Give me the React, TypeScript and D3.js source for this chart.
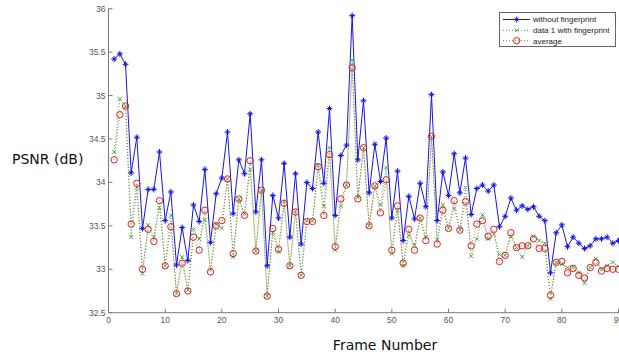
import React from "react";
import * as d3 from "d3";

const frames = d3.range(1, 91);

const withoutFp = [
  35.42, 35.48, 35.36, 34.11, 34.52, 33.47, 33.92, 33.92, 34.35, 33.56,
  33.89, 33.05, 33.48, 33.10, 33.74, 33.55, 34.15, 33.31, 33.87, 34.05,
  34.58, 33.64, 34.26, 34.10, 34.79, 33.66, 34.26, 33.04, 33.85, 33.59,
  34.22, 33.37, 34.10, 33.29, 34.00, 33.93, 34.58, 33.99, 34.85, 33.62,
  34.31, 34.43, 35.92, 34.26, 34.94, 33.88, 34.44, 34.01, 34.51, 33.59,
  34.13, 33.33, 33.84, 33.58, 33.99, 33.72, 35.01, 33.56, 34.12, 33.85,
  34.33, 33.88, 34.28, 33.63, 33.93, 33.97, 33.90, 33.97, 33.49, 33.61,
  33.82, 33.68, 33.73, 33.69, 33.72, 33.61, 33.56, 32.96, 33.42, 33.51,
  33.26, 33.37, 33.30, 33.24, 33.27, 33.35, 33.35, 33.37, 33.30, 33.33,
];

const data1WithFp = [
  34.35, 34.96, 34.88, 33.37, 33.94, 32.95, 33.51, 33.37, 33.71, 33.04,
  33.62, 32.72, 33.14, 32.76, 33.46, 33.35, 33.57, 33.00, 33.52, 33.47,
  34.04, 33.14, 33.81, 33.64, 34.15, 33.21, 33.91, 32.69, 33.42, 33.20,
  33.78, 33.04, 33.67, 32.93, 33.56, 33.56, 34.20, 33.73, 34.40, 33.22,
  33.73, 33.97, 35.41, 33.83, 34.40, 33.50, 33.96, 33.74, 34.17, 33.18,
  33.67, 33.04, 33.39, 33.28, 33.59, 33.37, 34.53, 33.34, 33.74, 33.47,
  33.70, 33.45, 33.94, 33.15, 33.35, 33.63, 33.35, 33.40, 33.17, 33.16,
  33.38, 33.25, 33.14, 33.27, 33.38, 33.33, 33.30, 32.66, 33.08, 33.06,
  33.02, 33.03, 32.96, 32.84, 33.02, 33.12, 33.00, 33.04, 33.08, 33.03,
];

const average = [
  34.26, 34.78, 34.88, 33.52, 33.99, 33.00, 33.46, 33.32, 33.79, 33.04,
  33.49, 32.72, 33.07, 32.75, 33.37, 33.22, 33.68, 32.97, 33.50, 33.56,
  34.04, 33.18, 33.81, 33.62, 34.25, 33.21, 33.91, 32.69, 33.47, 33.23,
  33.76, 33.04, 33.66, 32.93, 33.55, 33.55, 34.18, 33.62, 34.32, 33.26,
  33.81, 33.97, 35.32, 33.81, 34.40, 33.50, 33.96, 33.65, 34.03, 33.22,
  33.73, 33.07, 33.46, 33.22, 33.59, 33.33, 34.53, 33.29, 33.68, 33.47,
  33.79, 33.45, 33.78, 33.27, 33.52, 33.56, 33.38, 33.46, 33.09, 33.16,
  33.42, 33.25, 33.27, 33.27, 33.35, 33.24, 33.24, 32.70, 33.08, 33.09,
  32.96, 33.01, 32.93, 32.90, 33.02, 33.08, 32.98, 33.01, 33.00, 33.00,
];

const xTicks = d3.range(0, 91, 10);
const yTicks = [32.5, 33, 33.5, 34, 34.5, 35, 35.5, 36];
const legendLabels = ["without fingerprint", "data 1 with fingerprint", "average"];

const W = 619;
const H = 356;
const axisColor = "#7a7a7a";
const blue = "#1515e6";
const green = "#3aa63a";
const red = "#e02020";

export default function App() {
  const x = d3.scaleLinear().domain([0, 90]).range([108.5, 618.5]);
  const y = d3.scaleLinear().domain([32.5, 36]).range([312.7, 8.7]);

  const line = (vals: number[]) =>
    d3
      .line<number>()
      .x((_, i) => x(frames[i]))
      .y((v) => y(v))(vals) as string;

  const star = (cx: number, cy: number, key: string, s = 3) => (
    <g key={key} stroke={blue} strokeWidth={1}>
      <line x1={cx - s} y1={cy} x2={cx + s} y2={cy} />
      <line x1={cx} y1={cy - s} x2={cx} y2={cy + s} />
      <line x1={cx - s * 0.6} y1={cy - s * 0.6} x2={cx + s * 0.6} y2={cy + s * 0.6} />
      <line x1={cx - s * 0.6} y1={cy + s * 0.6} x2={cx + s * 0.6} y2={cy - s * 0.6} />
    </g>
  );
  const cross = (cx: number, cy: number, key: string, s = 2) => (
    <g key={key} stroke={green} strokeWidth={0.9}>
      <line x1={cx - s} y1={cy - s} x2={cx + s} y2={cy + s} />
      <line x1={cx - s} y1={cy + s} x2={cx + s} y2={cy - s} />
    </g>
  );
  const circ = (cx: number, cy: number, key: string) => (
    <circle key={key} cx={cx} cy={cy} r={3.2} fill="none" stroke={red} strokeWidth={1} />
  );

  const x0 = x(0);
  const yb = y(32.5);

  const lgX = 499.5;
  const lgY = 12.5;
  const rows = [19.5, 30.3, 40.7];

  return (
    <svg
      width={W}
      height={H}
      style={{ position: "absolute", left: 0, top: 0, background: "#fff" }}
      fontFamily="'Liberation Sans', Arial, sans-serif"
    >
      <rect width={W} height={H} fill="#fff" />
      {/* series lines */}
      <path d={line(average)} fill="none" stroke="#c96a4a" strokeWidth={1} strokeDasharray="1,2" />
      <path d={line(data1WithFp)} fill="none" stroke={green} strokeWidth={1} strokeDasharray="1,2" />
      <path d={line(withoutFp)} fill="none" stroke={blue} strokeWidth={1} />
      {withoutFp.map((v, i) => star(x(frames[i]), y(v), "b" + i))}
      {data1WithFp.map((v, i) => cross(x(frames[i]), y(v), "g" + i))}
      {average.map((v, i) => circ(x(frames[i]), y(v), "r" + i))}

      {/* axes */}
      <line x1={x0} y1={y(36)} x2={x0} y2={yb} stroke={axisColor} strokeWidth={1} />
      <line x1={x0} y1={yb} x2={W} y2={yb} stroke={axisColor} strokeWidth={1} />
      {yTicks.map((t) => (
        <g key={"yt" + t}>
          <line x1={x0} x2={x0 + 4} y1={y(t)} y2={y(t)} stroke={axisColor} />
          <text x={x0 - 3} y={y(t)} dy="0.35em" textAnchor="end" fontSize={8.5} fill="#555">
            {String(t)}
          </text>
        </g>
      ))}
      {xTicks.map((t) => (
        <g key={"xt" + t}>
          <line x1={x(t)} x2={x(t)} y1={yb} y2={yb - 4} stroke={axisColor} />
          <text x={x(t)} y={yb + 10} textAnchor="middle" fontSize={8.5} fill="#555">
            {String(t)}
          </text>
        </g>
      ))}

      {/* axis titles */}
      <text x={12} y={164} fontFamily="'DejaVu Sans', Verdana, sans-serif" fontSize={14} fill="#111">
        PSNR (dB)
      </text>
      <text x={385} y={350} textAnchor="middle" fontFamily="'DejaVu Sans', Verdana, sans-serif" fontSize={14} fill="#111">
        Frame Number
      </text>

      {/* legend */}
      <rect x={lgX} y={lgY} width={116} height={34} fill="#fff" stroke="#666" strokeWidth={1} />
      <line x1={503} x2={530} y1={rows[0]} y2={rows[0]} stroke={blue} />
      {star(516.7, rows[0], "lg0")}
      <line x1={503} x2={530} y1={rows[1]} y2={rows[1]} stroke={green} strokeDasharray="1,2" />
      {cross(516.7, rows[1], "lg1")}
      <line x1={503} x2={530} y1={rows[2]} y2={rows[2]} stroke="#c96a4a" strokeDasharray="1,2" />
      {circ(516.7, rows[2], "lg2")}
      {legendLabels.map((l, i) => (
        <text key={l} x={533} y={rows[i]} dy="0.35em" fontSize={8} fill="#222">
          {l}
        </text>
      ))}
    </svg>
  );
}
